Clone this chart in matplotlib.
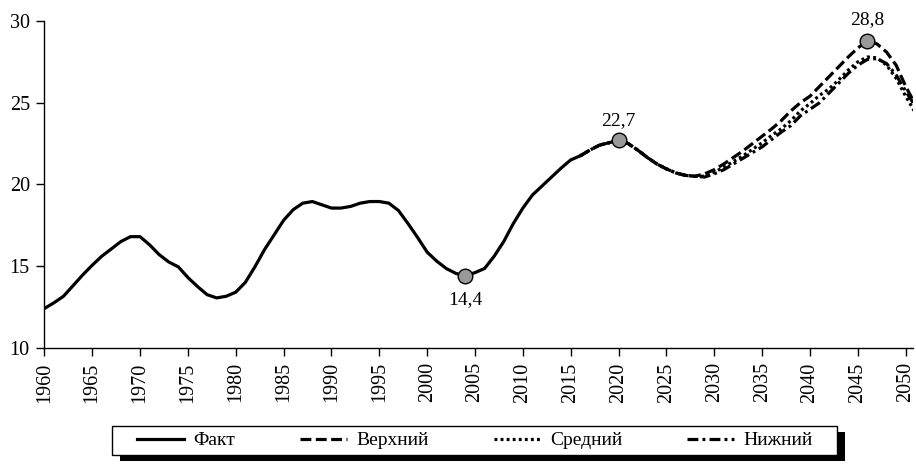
import matplotlib
matplotlib.use("Agg")
import matplotlib.pyplot as plt
import matplotlib.patheffects as pe
from matplotlib.patches import Rectangle

plt.rcParams['font.family'] = ['Liberation Serif', 'DejaVu Serif']

# факт
fact_years = list(range(1960, 2017))
fact_vals = [12.4, 12.75, 13.15, 13.8, 14.45, 15.05, 15.6, 16.05, 16.5, 16.8,
             16.8, 16.3, 15.7, 15.25, 14.95, 14.3, 13.75, 13.25, 13.05, 13.15,
             13.4, 14.0, 14.95, 16.0, 16.9, 17.8, 18.45, 18.85, 18.95, 18.75,
             18.55, 18.55, 18.65, 18.85, 18.95, 18.95, 18.85, 18.4, 17.6, 16.75,
             15.85, 15.3, 14.85, 14.55, 14.4, 14.6, 14.85, 15.6, 16.5, 17.6,
             18.55, 19.35, 19.9, 20.45, 21.0, 21.5, 21.75]

# прогнозы
fc_years = list(range(2016, 2052))
common = [21.75, 22.1, 22.4, 22.55, 22.7, 22.5, 22.1, 21.65, 21.25, 20.95,
          20.7, 20.55, 20.5]
upper = common + [20.65, 20.9, 21.25, 21.65, 22.05, 22.5, 22.95, 23.4, 23.9,
                  24.5, 25.0, 25.4, 26.0, 26.6, 27.2, 27.8, 28.35, 28.8, 28.6,
                  28.1, 27.3, 26.0, 24.9]
middle = common + [20.5, 20.75, 21.05, 21.4, 21.75, 22.15, 22.55, 23.0, 23.4,
                   23.9, 24.5, 24.95, 25.45, 25.85, 26.4, 27.0, 27.5, 27.8,
                   27.75, 27.3, 26.5, 25.4, 24.4]
lower = common + [20.45, 20.65, 20.9, 21.25, 21.6, 21.95, 22.3, 22.75, 23.2,
                  23.6, 24.2, 24.6, 25.0, 25.6, 26.2, 26.8, 27.3, 27.65, 27.7,
                  27.4, 26.7, 25.7, 24.8]

pt_years = [2004, 2020, 2046]
pt_vals = [14.4, 22.7, 28.8]
pt_labels = ['14,4', '22,7', '28,8']
pt_offsets = [-17, 14.5, 15]

W, H = 916, 468
fig = plt.figure(figsize=(W / 100, H / 100), dpi=100)
ax = fig.add_axes([0.0484, 0.257, 0.9487, 0.698])

lw = 2.3
ax.plot(fact_years, fact_vals, color='k', lw=lw, label='Факт')
ax.plot(fc_years, upper, color='k', lw=lw, dashes=(3.4, 1.4), label='Верхний')
ax.plot(fc_years, middle, color='k', lw=lw, dashes=(0.9, 1.0), label='Средний')
ax.plot(fc_years, lower, color='k', lw=lw, dashes=(3.4, 1.3, 0.9, 1.3), label='Нижний')

ax.plot(pt_years, pt_vals, 'o', ms=10.5, mfc='#999999', mec='k', mew=1, zorder=5)
for x, y, t, off in zip(pt_years, pt_vals, pt_labels, pt_offsets):
    ax.annotate(t, (x, y), xytext=(0, off), textcoords='offset points',
                ha='center', va='center', fontsize=14)

ax.set_xlim(1960, 2050.8)
ax.set_ylim(10, 30)
ax.set_xticks(range(1960, 2051, 5))
ax.set_yticks(range(10, 31, 5))
ax.tick_params(axis='x', labelrotation=90, labelsize=14.5, length=5.5, width=1, pad=5)
ax.tick_params(axis='y', labelsize=14.5, length=5.5, width=1, pad=5)
ax.spines['top'].set_visible(False)
ax.spines['right'].set_visible(False)
for s in ['left', 'bottom']:
    ax.spines[s].set_linewidth(1)

# рамка легенды с тенью
box = Rectangle((112 / W, (H - 455) / H), (837 - 112) / W, 29 / H,
                transform=fig.transFigure, fc='w', ec='k', lw=1, zorder=3,
                path_effects=[pe.SimplePatchShadow(offset=(6, -4), shadow_rgbFace='k', alpha=1),
                              pe.Normal()])
fig.add_artist(box)

leg = fig.legend(loc='center left', bbox_to_anchor=(137 / W, (H - 440.5) / H, (813 - 137) / W, 0),
                 mode='expand', ncol=4, borderaxespad=0, borderpad=0, frameon=False,
                 fontsize=14, handlelength=2.4, handletextpad=0.5)
leg.set_zorder(5)

fig.savefig('out.png', dpi=100)
